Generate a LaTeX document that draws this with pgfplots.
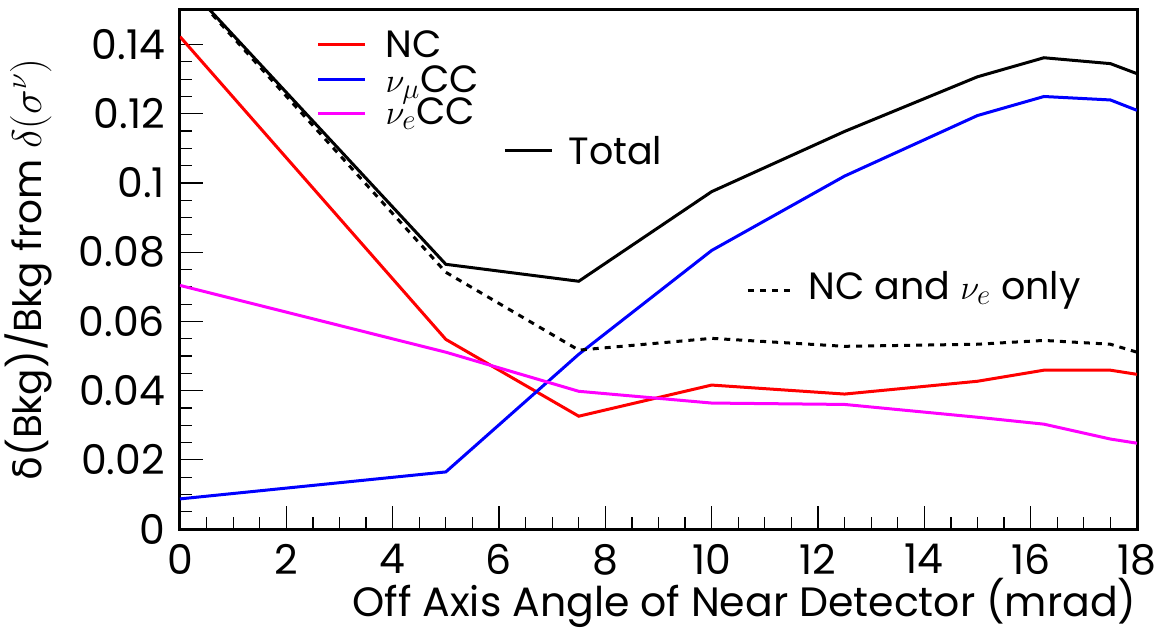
\documentclass[border=0pt]{standalone}
\usepackage{fontspec}
\setmainfont{Poppins}
\newfontfamily\grk{DejaVu Sans}
\usepackage{pgfplots}
\pgfplotsset{compat=1.18}
\definecolor{pmag}{RGB}{255,0,255}
\definecolor{pred}{RGB}{255,0,0}
\definecolor{pblue}{RGB}{0,0,255}
\begin{document}
\fontsize{19pt}{23pt}\selectfont
\begin{tikzpicture}
\path[use as bounding box] (-90pt,-52pt) rectangle (494.5pt,264.5pt);
\begin{axis}[
  scale only axis, width=478.5pt, height=259.5pt,
  xmin=0, xmax=18, ymin=0, ymax=0.15,
  axis line style={line width=1.5pt},
  xtick={0,2,...,18}, ytick={0,0.02,...,0.141},
  minor x tick num=3, minor y tick num=3,
  tick align=inside, xtick pos=bottom, ytick pos=left,
  major tick length=11.5pt, minor tick length=6pt,
  every tick/.style={black, line width=0.6pt},
  scaled y ticks=false,
  yticklabel style={/pgf/number format/fixed, /pgf/number format/precision=2, xshift=-1pt},
  xticklabel style={yshift=-1pt},
  /pgf/number format/assume math mode=true,
  ticklabel style={font=\fontsize{20.5pt}{24pt}\selectfont},
  clip=true,
]
\addplot[pred, line width=1.5pt] coordinates {(0,0.1423) (5,0.0548) (7.5,0.0326) (10,0.0416) (12.5,0.0390) (15,0.0427) (16.25,0.0459) (17.5,0.0459) (18,0.0447)};
\addplot[pblue, line width=1.5pt] coordinates {(0,0.0087) (5,0.0165) (7.5,0.0505) (10,0.0805) (12.5,0.1020) (15,0.1195) (16.25,0.1250) (17.5,0.1240) (18,0.1210)};
\addplot[pmag, line width=1.5pt] coordinates {(0,0.0704) (5,0.0511) (7.5,0.0398) (10,0.0364) (12.5,0.0360) (15,0.0323) (16.25,0.0303) (17.5,0.0260) (18,0.0248)};
\addplot[black, line width=1.5pt] coordinates {(0,0.1593) (5,0.0765) (7.5,0.0716) (10,0.0975) (12.5,0.1149) (15,0.1307) (16.25,0.1362) (17.5,0.1345) (18,0.1316)};
\addplot[black, line width=1.5pt, dashed] coordinates {(0,0.1590) (5,0.0742) (7.5,0.0517) (10,0.0551) (12.5,0.0528) (15,0.0534) (16.25,0.0545) (17.5,0.0534) (18,0.0511)};
% legend
\draw[pred, line width=1.5pt] (axis cs:2.6,0.1400) -- (axis cs:3.48,0.1400);
\node[anchor=west, inner sep=0pt] at (axis cs:3.86,0.1400) {NC};
\draw[pblue, line width=1.5pt] (axis cs:2.6,0.1299) -- (axis cs:3.48,0.1299);
\node[anchor=west, inner sep=0pt, text depth=0pt] at (axis cs:3.86,0.1299) {$\nu_\mu$CC};
\draw[pmag, line width=1.5pt] (axis cs:2.6,0.1200) -- (axis cs:3.48,0.1200);
\node[anchor=west, inner sep=0pt] at (axis cs:3.86,0.1200) {$\nu_e$CC};
\draw[black, line width=1.5pt] (axis cs:6.11,0.1094) -- (axis cs:7.0,0.1094);
\node[anchor=west, inner sep=0pt] at (axis cs:7.3,0.1094) {Total};
\draw[black, line width=1.5pt, dashed] (axis cs:10.68,0.0690) -- (axis cs:11.57,0.0690);
\node[anchor=west, inner sep=0pt] at (axis cs:11.81,0.0690) {NC and $\nu_e$ only};
\end{axis}
\node[anchor=east, inner sep=0pt, font=\fontsize{20.5pt}{24pt}\selectfont] at (478.5pt,-37pt) {Off Axis Angle of Near Detector (mrad)};
\node[rotate=90, inner sep=0pt, font=\fontsize{19.5pt}{24pt}\selectfont] at (-76pt,129.75pt) {{\grk δ}(Bkg)/Bkg from $\delta(\sigma^{\nu})$};
\end{tikzpicture}
\end{document}
